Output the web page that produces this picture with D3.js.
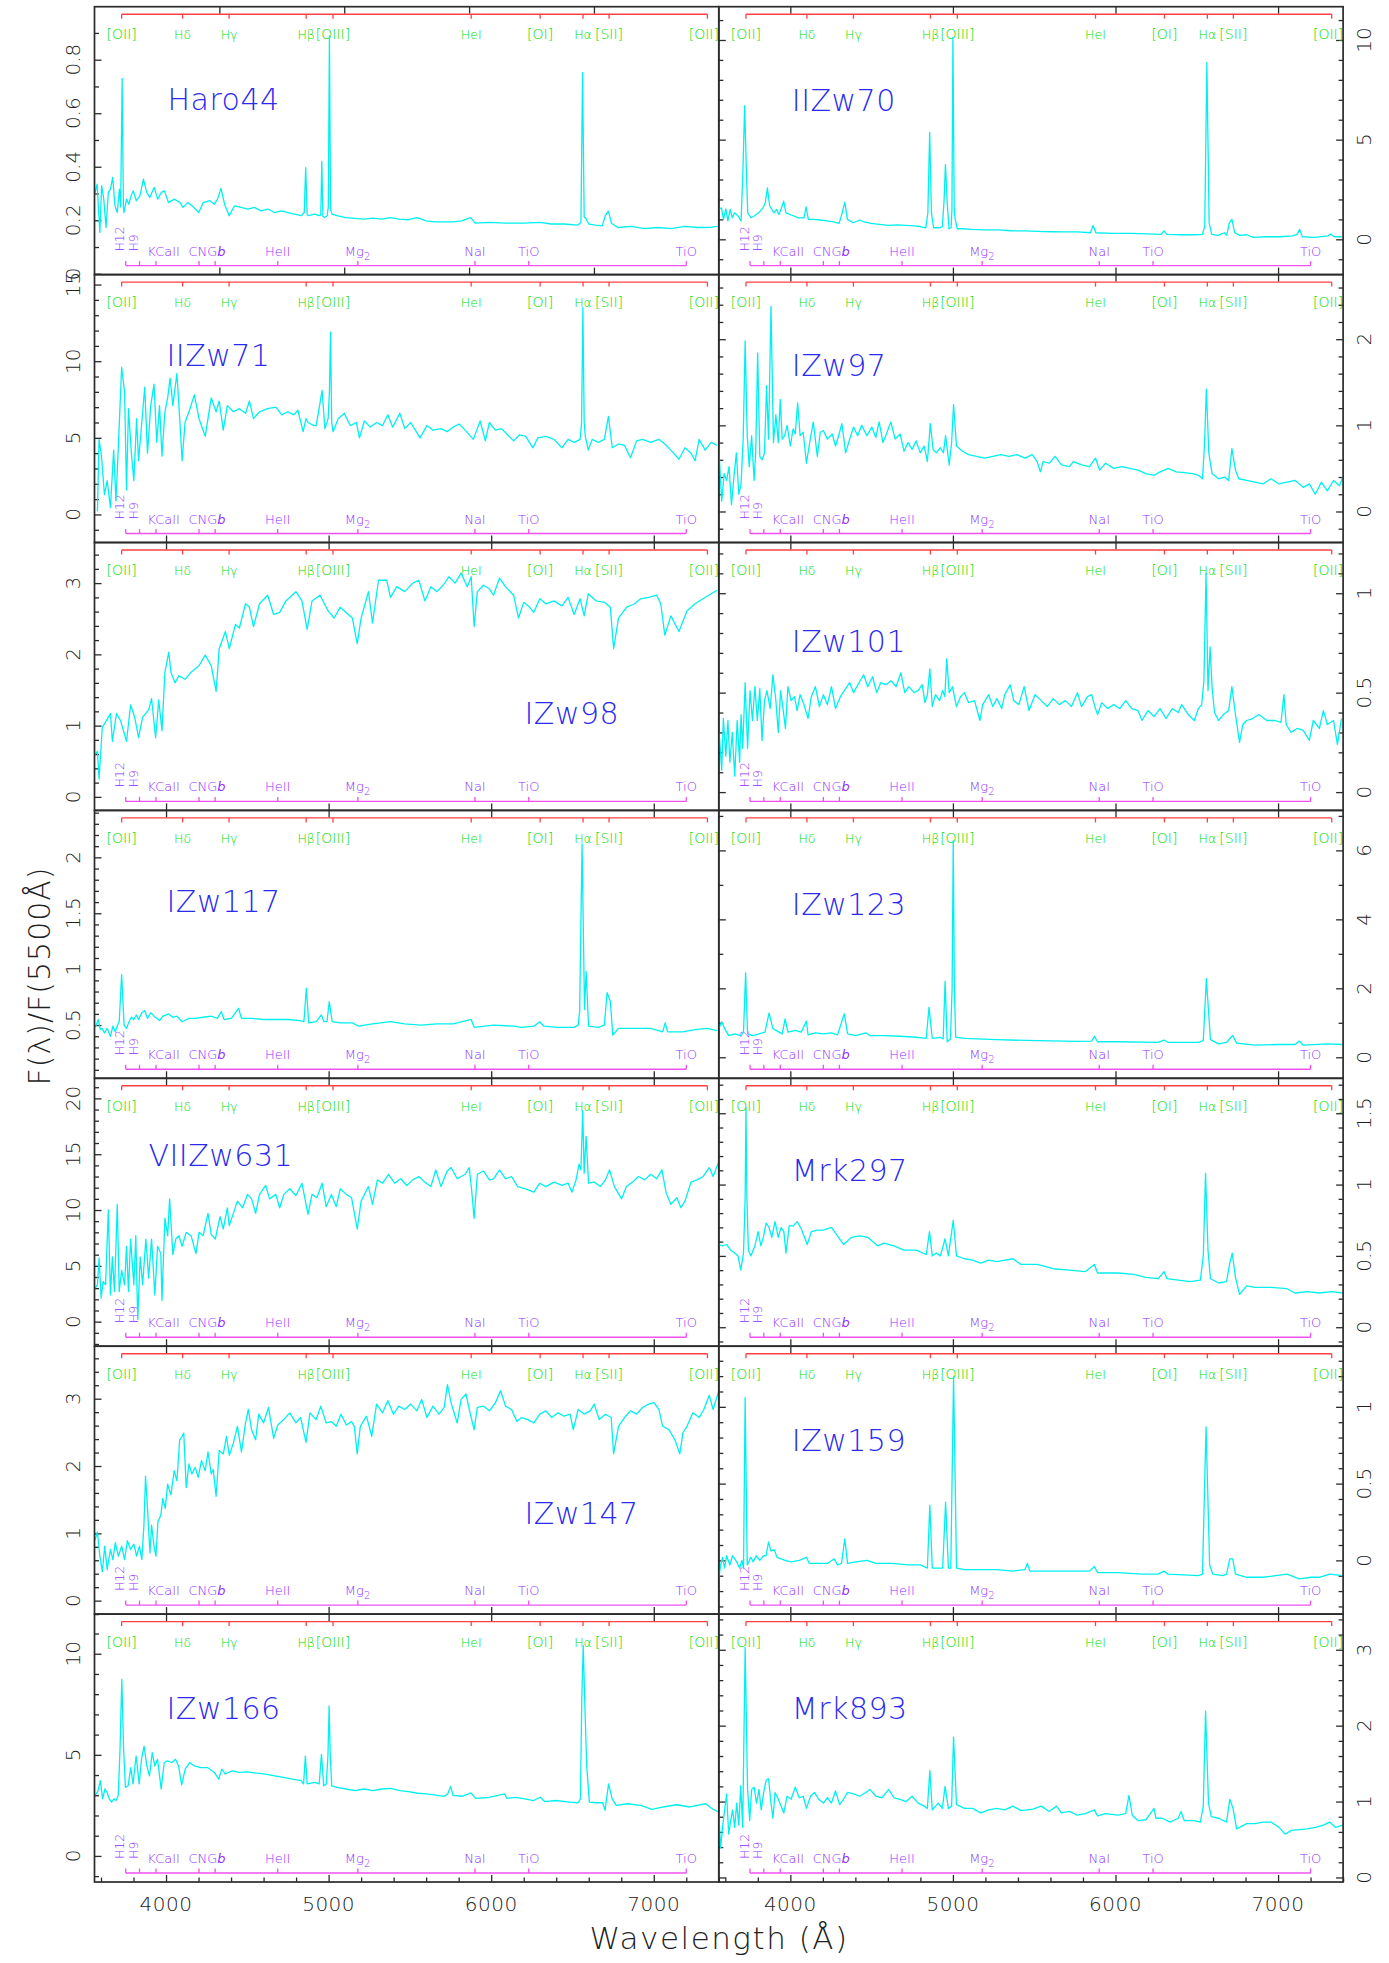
<!DOCTYPE html>
<html><head><meta charset="utf-8">
<script src="https://cdn.jsdelivr.net/npm/d3@7/dist/d3.min.js"></script>
<style>body{margin:0;background:#fff}text{font-family:"DejaVu Sans","Liberation Sans",sans-serif;font-weight:200}</style>
</head><body>
<svg id="c" width="1389" height="1963"></svg>
<script>
// ---------------- DATA ----------------
const haro44=[[3562,.30],[3576,.335],[3593,.154],[3604,.329],[3617,.279],[3631,.173],[3645,.304],[3658,.316],[3672,.36],[3686,.254],[3700,.229],[3713,.316],[3721,.25],[3730,.73],[3738,.25],[3741,.229],[3757,.279],[3771,.26],[3785,.291],[3798,.31],[3817,.273],[3839,.291],[3861,.354],[3881,.304],[3900,.285],[3927,.323],[3949,.279],[3971,.304],[3990,.31],[4015,.266],[4051,.279],[4086,.266],[4105,.248],[4133,.266],[4160,.254],[4201,.229],[4229,.266],[4270,.273],[4297,.26],[4317,.279],[4338,.319],[4360,.26],[4388,.217],[4421,.254],[4462,.248],[4503,.242],[4544,.248],[4585,.235],[4626,.242],[4668,.229],[4709,.235],[4750,.229],[4791,.223],[4832,.217],[4850,.229],[4859,.397],[4868,.222],[4876,.217],[4914,.223],[4942,.217],[4952,.22],[4958,.42],[4965,.215],[4975,.21],[4991,.217],[4998,.25],[5005,.889],[5012,.24],[5021,.223],[5051,.217],[5106,.21],[5161,.207],[5216,.204],[5271,.208],[5326,.204],[5380,.21],[5435,.204],[5490,.202],[5545,.21],[5600,.198],[5655,.194],[5709,.194],[5764,.194],[5819,.198],[5874,.21],[5901,.189],[5984,.192],[6093,.189],[6203,.189],[6299,.192],[6368,.186],[6450,.186],[6532,.182],[6552,.192],[6562,.752],[6572,.21],[6579,.21],[6601,.186],[6642,.182],[6683,.179],[6702,.217],[6721,.234],[6740,.189],[6779,.173],[6861,.177],[6943,.169],[7026,.173],[7108,.169],[7190,.177],[7272,.173],[7355,.174],[7393,.177]];
const iizw70=[[3562,1.5],[3576,1.58],[3589,1.0],[3603,1.53],[3616,.92],[3630,1.5],[3643,1.08],[3657,1.33],[3678,1.17],[3697,.92],[3708,3.33],[3719,6.7],[3730,3.33],[3738,1.33],[3759,1.08],[3778,1.17],[3805,1.33],[3832,1.58],[3846,1.83],[3859,2.58],[3873,1.67],[3886,1.5],[3900,1.33],[3916,1.5],[3930,1.25],[3946,1.58],[3959,1.92],[3973,1.33],[3995,1.25],[4022,1.17],[4049,1.08],[4084,1.08],[4097,1.63],[4111,1.0],[4143,1.0],[4184,.97],[4224,.92],[4265,.87],[4300,.8],[4319,1.33],[4335,1.87],[4351,1.0],[4387,.83],[4427,.97],[4454,.87],[4495,.8],[4549,.75],[4603,.7],[4657,.72],[4711,.7],[4765,.67],[4805,.63],[4833,.58],[4846,1.33],[4857,5.37],[4868,1.33],[4881,.58],[4914,.58],[4935,.63],[4946,2.0],[4954,3.75],[4965,1.83],[4976,.53],[4989,.58],[4994,1.5],[5000,10.13],[5008,1.5],[5014,1.0],[5027,.53],[5062,.53],[5116,.5],[5197,.47],[5279,.47],[5360,.43],[5441,.42],[5522,.4],[5603,.38],[5684,.37],[5765,.37],[5846,.33],[5862,.7],[5879,.33],[5981,.3],[6089,.3],[6198,.27],[6279,.25],[6298,.42],[6316,.25],[6414,.23],[6495,.23],[6535,.25],[6549,.67],[6562,8.87],[6576,.83],[6592,.25],[6630,.2],[6670,.33],[6684,.2],[6700,.83],[6716,1.0],[6733,.33],[6765,.2],[6806,.23],[6846,.1],[6927,.13],[7008,.13],[7090,.17],[7117,.25],[7133,.5],[7149,.13],[7225,.1],[7306,.17],[7322,.27],[7346,.13],[7392,.13]];
const iizw71=[[3578,.2],[3588,4.9],[3603,3.8],[3621,1.3],[3638,2.2],[3658,.45],[3678,4.2],[3692,.9],[3707,4.5],[3727,9.6],[3745,8.0],[3757,1.6],[3769,6.9],[3787,4.0],[3802,2.2],[3819,6.25],[3831,3.5],[3851,6.0],[3869,8.3],[3886,4.0],[3906,7.1],[3926,8.5],[3943,4.7],[3960,7.1],[3975,3.8],[3993,6.7],[4010,7.6],[4025,8.9],[4042,7.1],[4067,9.2],[4084,6.25],[4099,3.5],[4117,6.0],[4141,6.7],[4174,7.8],[4203,6.25],[4241,5.1],[4278,7.6],[4308,6.7],[4327,7.4],[4352,5.5],[4377,7.1],[4414,6.7],[4451,6.9],[4489,6.6],[4513,7.4],[4538,6.25],[4575,6.7],[4625,6.9],[4675,7.0],[4712,6.5],[4749,6.7],[4786,6.5],[4811,6.8],[4843,5.4],[4861,6.25],[4873,6.0],[4910,5.8],[4923,5.8],[4935,6.5],[4960,8.1],[4977,5.6],[4997,6.25],[5005,8.0],[5012,11.9],[5019,6.0],[5027,5.4],[5059,6.25],[5096,6.6],[5133,5.8],[5171,6.0],[5190,5.0],[5220,6.1],[5257,5.7],[5295,6.0],[5332,5.8],[5364,6.5],[5394,5.7],[5438,6.6],[5468,5.6],[5505,6.0],[5562,5.0],[5605,5.8],[5642,5.5],[5691,5.6],[5729,5.4],[5766,5.7],[5803,5.9],[5840,5.5],[5890,4.9],[5932,6.1],[5964,4.8],[5989,6.0],[6026,5.5],[6063,5.6],[6101,5.2],[6138,4.8],[6175,5.2],[6212,5.1],[6257,4.35],[6287,5.0],[6336,5.1],[6386,4.9],[6435,4.35],[6473,4.9],[6510,4.7],[6547,4.9],[6556,6.0],[6564,13.5],[6572,6.0],[6579,5.1],[6597,4.2],[6621,4.9],[6659,4.7],[6696,4.9],[6721,6.4],[6745,4.35],[6783,4.6],[6820,4.5],[6857,3.7],[6894,4.8],[6931,4.9],[6981,4.7],[7031,4.9],[7068,4.6],[7105,4.2],[7155,3.6],[7192,4.35],[7229,4.0],[7254,3.5],[7279,4.9],[7316,4.2],[7353,4.7],[7390,4.5]];
const izw97=[[3560,.8],[3564,.6],[3578,.12],[3593,.44],[3608,.36],[3623,.52],[3638,.08],[3653,.4],[3668,.68],[3683,.2],[3697,.32],[3710,.84],[3722,1.98],[3735,.88],[3747,.52],[3762,.88],[3777,.36],[3787,.68],[3799,1.84],[3812,.64],[3826,.6],[3841,.68],[3854,1.46],[3866,.84],[3881,2.38],[3896,.8],[3911,1.12],[3926,.8],[3938,1.3],[3950,.84],[3965,.88],[3980,1.0],[4000,.76],[4017,.96],[4030,.9],[4045,1.26],[4060,.88],[4079,.92],[4099,.56],[4119,.8],[4141,1.04],[4166,.64],[4184,.92],[4203,.94],[4228,.84],[4258,.9],[4278,.76],[4303,.92],[4317,1.02],[4340,.68],[4365,.84],[4389,.98],[4414,.88],[4439,1.0],[4471,.88],[4501,.98],[4526,.86],[4546,1.04],[4570,.8],[4595,.92],[4618,1.04],[4645,.84],[4675,.9],[4699,.7],[4724,.8],[4749,.72],[4774,.82],[4799,.68],[4823,.76],[4843,.58],[4861,1.02],[4878,.72],[4898,.68],[4923,.74],[4942,.68],[4955,.88],[4977,.54],[4992,.8],[5004,1.24],[5022,.76],[5059,.7],[5096,.66],[5146,.64],[5195,.62],[5245,.64],[5295,.66],[5344,.64],[5394,.66],[5443,.62],[5488,.66],[5518,.58],[5538,.46],[5555,.58],[5592,.56],[5629,.64],[5667,.54],[5716,.52],[5741,.58],[5791,.54],[5840,.52],[5877,.62],[5902,.48],[5939,.56],[5989,.5],[6039,.52],[6088,.5],[6138,.48],[6187,.44],[6237,.42],[6274,.46],[6324,.5],[6373,.46],[6423,.45],[6473,.44],[6510,.42],[6535,.38],[6547,.76],[6559,1.42],[6574,.68],[6594,.44],[6634,.38],[6671,.4],[6696,.36],[6716,.73],[6738,.48],[6758,.38],[6807,.36],[6857,.34],[6907,.32],[6956,.38],[7006,.32],[7055,.34],[7105,.36],[7155,.28],[7192,.32],[7229,.2],[7266,.34],[7303,.24],[7341,.36],[7378,.3],[7398,.4]];
const izw98=[[3562,.59],[3578,.64],[3588,.25],[3608,.98],[3633,1.07],[3658,1.17],[3670,.78],[3695,1.17],[3720,1.07],[3757,.78],[3782,1.29],[3807,1.12],[3831,.83],[3856,1.12],[3893,1.22],[3911,1.38],[3936,.83],[3955,1.36],[3975,.93],[3993,1.75],[4017,2.03],[4030,1.75],[4055,1.6],[4079,1.7],[4117,1.65],[4154,1.75],[4203,1.84],[4241,1.99],[4278,1.84],[4308,1.48],[4327,2.08],[4365,2.32],[4389,2.08],[4427,2.42],[4451,2.37],[4489,2.71],[4513,2.66],[4538,2.39],[4575,2.71],[4625,2.83],[4662,2.56],[4699,2.59],[4737,2.75],[4799,2.88],[4836,2.75],[4868,2.35],[4898,2.75],[4947,2.83],[4997,2.61],[5034,2.51],[5071,2.66],[5121,2.56],[5146,2.51],[5176,2.15],[5200,2.51],[5245,2.88],[5270,2.44],[5307,3.04],[5357,3.04],[5381,2.8],[5419,2.95],[5468,2.88],[5518,3.0],[5555,3.04],[5592,2.75],[5629,2.95],[5667,2.88],[5704,2.97],[5741,3.09],[5778,3.0],[5815,3.14],[5853,2.95],[5877,3.09],[5895,2.39],[5915,2.88],[5952,2.97],[5989,2.92],[6014,2.83],[6051,3.07],[6088,2.95],[6138,2.83],[6168,2.51],[6200,2.73],[6237,2.66],[6262,2.59],[6299,2.78],[6336,2.71],[6386,2.75],[6435,2.68],[6473,2.8],[6510,2.56],[6547,2.78],[6572,2.54],[6597,2.85],[6646,2.75],[6696,2.73],[6733,2.66],[6753,2.08],[6783,2.51],[6832,2.66],[6882,2.71],[6919,2.78],[6969,2.8],[7018,2.83],[7043,2.71],[7068,2.27],[7105,2.54],[7155,2.32],[7204,2.61],[7254,2.71],[7303,2.78],[7353,2.85],[7390,2.9]];
const izw101=[[3562,.3],[3578,.11],[3588,.37],[3603,.18],[3616,.36],[3628,.15],[3643,.3],[3658,.08],[3673,.36],[3688,.15],[3697,.39],[3707,.22],[3722,.55],[3737,.22],[3752,.51],[3767,.36],[3782,.53],[3797,.36],[3812,.52],[3826,.26],[3841,.46],[3856,.51],[3876,.42],[3893,.59],[3911,.46],[3926,.3],[3940,.51],[3955,.42],[3970,.32],[3985,.53],[4005,.46],[4025,.48],[4042,.41],[4060,.49],[4084,.44],[4109,.37],[4129,.48],[4154,.53],[4179,.43],[4203,.49],[4228,.44],[4253,.53],[4278,.42],[4308,.48],[4332,.51],[4365,.55],[4389,.5],[4422,.55],[4451,.59],[4476,.53],[4506,.58],[4531,.5],[4556,.55],[4588,.54],[4620,.56],[4650,.53],[4680,.6],[4704,.5],[4729,.53],[4761,.5],[4786,.51],[4811,.54],[4828,.45],[4843,.49],[4858,.62],[4873,.43],[4893,.49],[4918,.46],[4937,.51],[4950,.48],[4962,.67],[4977,.5],[4997,.53],[5022,.43],[5047,.48],[5071,.5],[5096,.45],[5133,.46],[5166,.36],[5183,.44],[5220,.49],[5245,.43],[5270,.47],[5300,.42],[5319,.49],[5352,.54],[5374,.46],[5406,.44],[5438,.53],[5468,.41],[5505,.49],[5543,.46],[5580,.43],[5617,.47],[5654,.44],[5691,.46],[5729,.43],[5766,.5],[5791,.43],[5828,.48],[5853,.49],[5877,.42],[5890,.39],[5915,.45],[5952,.42],[5989,.44],[6026,.42],[6063,.46],[6101,.42],[6138,.41],[6163,.36],[6200,.41],[6237,.38],[6274,.42],[6311,.37],[6349,.42],[6386,.4],[6407,.44],[6448,.39],[6485,.36],[6510,.42],[6530,.44],[6544,.56],[6557,1.1],[6569,.51],[6582,.73],[6594,.53],[6609,.4],[6634,.36],[6664,.39],[6696,.41],[6716,.53],[6738,.39],[6763,.25],[6783,.34],[6807,.36],[6844,.37],[6882,.39],[6931,.36],[6981,.36],[7018,.35],[7036,.49],[7050,.34],[7080,.3],[7117,.32],[7155,.31],[7192,.26],[7217,.36],[7254,.32],[7279,.41],[7303,.34],[7341,.36],[7365,.24],[7390,.37]];
const izw117=[[3562,.48],[3571,.5],[3583,.55],[3596,.46],[3608,.47],[3621,.43],[3638,.47],[3658,.4],[3673,.49],[3688,.44],[3702,.5],[3712,.53],[3727,.95],[3742,.5],[3757,.47],[3772,.53],[3787,.57],[3802,.55],[3817,.59],[3831,.55],[3851,.61],[3869,.63],[3886,.56],[3906,.61],[3926,.58],[3943,.56],[3960,.54],[3980,.58],[4017,.6],[4042,.57],[4067,.58],[4099,.53],[4141,.56],[4179,.56],[4228,.57],[4278,.58],[4315,.56],[4340,.62],[4357,.55],[4402,.56],[4446,.65],[4464,.56],[4526,.56],[4600,.55],[4675,.55],[4749,.55],[4823,.54],[4848,.53],[4863,.83],[4878,.52],[4923,.53],[4955,.59],[4972,.53],[4990,.53],[5004,.71],[5022,.53],[5071,.52],[5146,.52],[5183,.49],[5270,.51],[5381,.53],[5468,.51],[5567,.5],[5667,.51],[5766,.51],[5877,.55],[5895,.48],[6014,.5],[6138,.49],[6187,.48],[6262,.49],[6299,.53],[6324,.49],[6407,.48],[6510,.48],[6535,.5],[6544,.62],[6559,2.12],[6574,.64],[6584,.98],[6599,.49],[6659,.48],[6696,.5],[6713,.79],[6733,.71],[6748,.41],[6783,.47],[6882,.47],[6981,.47],[7055,.44],[7070,.52],[7085,.44],[7179,.44],[7254,.46],[7328,.47],[7390,.45]];
const izw123=[[3560,.83],[3578,1.03],[3596,.83],[3621,.63],[3658,.68],[3695,.63],[3712,.73],[3725,2.45],[3737,.68],[3769,.63],[3807,.68],[3844,.73],[3869,1.28],[3893,.83],[3931,.73],[3950,.68],[3968,1.11],[3985,.73],[4030,.78],[4067,.73],[4099,1.05],[4109,.65],[4154,.71],[4203,.68],[4253,.71],[4290,.65],[4332,1.26],[4352,.68],[4402,.63],[4464,.71],[4489,.63],[4575,.63],[4675,.61],[4774,.58],[4836,.55],[4853,1.45],[4873,.55],[4923,.58],[4940,.53],[4952,2.21],[4965,.45],[4985,.53],[4995,2.0],[5002,6.28],[5009,2.0],[5017,.58],[5071,.55],[5270,.51],[5518,.48],[5766,.46],[5853,.47],[5870,.61],[5890,.45],[6014,.45],[6262,.43],[6299,.5],[6324,.43],[6510,.43],[6540,.48],[6559,2.28],[6584,.51],[6634,.39],[6683,.43],[6721,.63],[6745,.41],[6857,.35],[7006,.37],[7105,.37],[7130,.47],[7155,.35],[7303,.39],[7398,.37]];
const viizw631=[[3564,3.0],[3578,3.3],[3588,5.7],[3601,2.1],[3613,3.6],[3628,3.3],[3645,10.0],[3658,2.4],[3670,5.8],[3683,2.7],[3700,10.5],[3712,2.7],[3727,4.6],[3745,3.3],[3757,6.75],[3769,2.7],[3782,7.4],[3802,3.3],[3814,7.7],[3826,.2],[3841,5.8],[3856,3.3],[3876,7.4],[3893,3.9],[3911,7.4],[3931,2.4],[3948,6.75],[3968,6.1],[3975,1.9],[3993,9.25],[4010,7.7],[4022,11.0],[4042,6.0],[4060,7.4],[4079,7.7],[4099,6.75],[4124,8.0],[4154,7.7],[4184,6.1],[4203,8.0],[4228,7.7],[4258,9.7],[4278,7.8],[4303,7.4],[4332,9.4],[4352,8.3],[4377,10.2],[4389,8.6],[4414,9.7],[4439,10.8],[4471,10.2],[4501,11.4],[4526,11.0],[4551,9.7],[4575,11.4],[4613,12.2],[4637,11.0],[4675,11.4],[4699,10.2],[4724,11.4],[4761,11.9],[4799,11.3],[4836,12.4],[4873,9.6],[4898,11.4],[4928,11.1],[4960,12.4],[4985,10.3],[5017,11.4],[5047,10.3],[5071,11.9],[5109,11.4],[5141,11.1],[5176,8.3],[5200,10.8],[5245,12.1],[5270,10.5],[5300,12.7],[5332,12.4],[5369,13.2],[5406,12.4],[5443,12.8],[5481,12.2],[5518,12.7],[5555,13.0],[5592,12.5],[5629,12.1],[5659,13.6],[5691,12.1],[5729,13.5],[5753,13.8],[5791,12.8],[5840,13.2],[5865,13.8],[5880,11.75],[5895,9.25],[5915,13.2],[5952,13.5],[5989,12.7],[6014,12.8],[6051,13.6],[6088,12.8],[6125,13.0],[6163,12.1],[6212,11.9],[6262,11.6],[6299,12.4],[6336,12.1],[6386,12.5],[6435,12.2],[6473,12.4],[6497,11.6],[6522,12.7],[6540,14.1],[6552,13.6],[6563,18.9],[6572,13.3],[6584,16.6],[6599,12.4],[6634,12.5],[6671,12.1],[6703,12.7],[6728,13.6],[6758,12.1],[6802,11.0],[6832,12.1],[6869,12.5],[6907,13.0],[6944,12.7],[6981,13.2],[7018,12.8],[7050,13.6],[7075,11.6],[7105,10.5],[7142,11.1],[7167,10.2],[7192,10.8],[7229,12.5],[7266,12.7],[7303,13.0],[7341,13.8],[7365,13.0],[7398,14.25]];
const mrk297=[[3560,.58],[3583,.57],[3608,.58],[3633,.54],[3658,.52],[3678,.5],[3695,.4],[3712,.52],[3722,.9],[3727,1.54],[3733,.9],[3742,.54],[3757,.5],[3782,.57],[3802,.67],[3819,.57],[3836,.64],[3851,.73],[3869,.7],[3886,.63],[3906,.74],[3926,.63],[3943,.7],[3960,.67],[3973,.52],[3993,.71],[4017,.71],[4042,.74],[4067,.69],[4104,.58],[4129,.67],[4166,.68],[4203,.68],[4253,.7],[4290,.64],[4327,.58],[4377,.63],[4427,.64],[4476,.63],[4538,.57],[4575,.59],[4637,.57],[4699,.54],[4774,.54],[4836,.51],[4856,.67],[4873,.5],[4898,.52],[4923,.5],[4952,.62],[4972,.5],[5002,.75],[5022,.5],[5071,.48],[5121,.47],[5171,.45],[5220,.47],[5270,.46],[5369,.48],[5419,.44],[5518,.44],[5617,.41],[5716,.4],[5815,.39],[5870,.44],[5890,.38],[6014,.38],[6113,.37],[6187,.35],[6262,.34],[6299,.39],[6316,.34],[6386,.33],[6460,.32],[6522,.33],[6540,.5],[6554,1.08],[6569,.54],[6584,.34],[6634,.31],[6683,.32],[6703,.45],[6718,.52],[6738,.35],[6763,.23],[6807,.29],[6857,.28],[6956,.28],[7055,.27],[7105,.24],[7179,.25],[7254,.24],[7328,.25],[7398,.24]];
const izw147=[[3563,.9],[3578,1.02],[3593,.66],[3608,.43],[3623,.81],[3638,.46],[3658,.76],[3673,.61],[3688,.86],[3707,.66],[3727,.81],[3745,.61],[3762,.89],[3782,.76],[3802,.84],[3819,.66],[3836,.81],[3851,.61],[3864,1.12],[3874,1.85],[3886,1.37],[3901,.71],[3911,1.12],[3926,.81],[3938,.66],[3950,1.17],[3968,1.27],[3980,1.52],[3995,1.37],[4010,1.73],[4030,1.57],[4050,1.93],[4067,1.78],[4084,2.39],[4099,2.44],[4109,2.49],[4124,1.68],[4141,2.03],[4159,1.88],[4179,1.98],[4198,1.83],[4218,2.08],[4241,1.93],[4258,2.21],[4278,1.88],[4290,1.95],[4308,1.55],[4327,2.23],[4352,2.18],[4372,2.44],[4389,2.16],[4414,2.34],[4439,2.59],[4464,2.21],[4489,2.64],[4506,2.84],[4526,2.54],[4551,2.39],[4570,2.77],[4600,2.64],[4630,2.87],[4662,2.41],[4687,2.61],[4724,2.69],[4761,2.79],[4799,2.64],[4828,2.72],[4861,2.35],[4885,2.79],[4923,2.69],[4952,2.89],[4985,2.64],[5017,2.66],[5047,2.59],[5076,2.77],[5109,2.61],[5141,2.66],[5158,2.59],[5176,2.18],[5195,2.59],[5233,2.74],[5265,2.44],[5295,2.92],[5332,2.79],[5364,2.97],[5399,2.77],[5431,2.89],[5468,2.84],[5505,2.92],[5543,2.82],[5572,2.99],[5605,2.72],[5642,2.89],[5679,2.77],[5711,2.87],[5731,3.21],[5753,2.94],[5791,2.64],[5815,2.99],[5845,3.07],[5865,2.84],[5895,2.54],[5915,2.87],[5952,2.89],[5989,2.82],[6026,2.94],[6058,3.12],[6088,2.89],[6125,2.84],[6158,2.66],[6187,2.72],[6225,2.69],[6262,2.64],[6299,2.77],[6336,2.82],[6373,2.72],[6411,2.79],[6448,2.74],[6485,2.77],[6505,2.54],[6535,2.84],[6572,2.77],[6609,2.82],[6634,2.92],[6664,2.69],[6703,2.77],[6738,2.72],[6753,2.18],[6783,2.59],[6820,2.72],[6857,2.82],[6894,2.77],[6931,2.87],[6969,2.92],[7001,2.94],[7031,2.84],[7055,2.59],[7093,2.54],[7130,2.39],[7160,2.18],[7179,2.49],[7204,2.59],[7241,2.79],[7279,2.72],[7308,2.84],[7341,3.05],[7365,2.84],[7398,3.1]];
const izw159=[[3560,-.12],[3571,-.03],[3583,.02],[3596,-.05],[3608,.03],[3628,-.03],[3645,.03],[3670,-.01],[3688,-.05],[3702,0],[3712,-.05],[3722,1.06],[3735,-.03],[3757,.02],[3772,-.01],[3789,.03],[3812,0],[3836,.03],[3851,.03],[3866,.12],[3881,.06],[3901,.07],[3918,.02],[3943,.01],[3968,0],[4005,-.01],[4055,0],[4099,.02],[4117,-.02],[4179,-.02],[4228,-.02],[4270,.01],[4290,-.03],[4315,-.02],[4335,.14],[4352,-.02],[4402,-.01],[4471,0],[4526,-.02],[4625,-.02],[4724,-.03],[4799,-.03],[4843,-.05],[4858,.36],[4873,-.05],[4937,-.05],[4955,.38],[4972,-.05],[4987,-.05],[5004,1.2],[5022,-.05],[5071,-.06],[5171,-.06],[5270,-.06],[5369,-.07],[5443,-.06],[5458,-.02],[5473,-.07],[5567,-.07],[5716,-.07],[5840,-.07],[5870,-.04],[5890,-.08],[6014,-.08],[6163,-.09],[6262,-.09],[6299,-.07],[6324,-.09],[6510,-.1],[6535,-.09],[6557,.87],[6579,-.03],[6599,-.09],[6659,-.1],[6683,-.09],[6703,.01],[6721,.01],[6738,-.09],[6807,-.11],[6907,-.11],[7055,-.09],[7130,-.12],[7204,-.11],[7254,-.11],[7316,-.09],[7398,-.1]];
const izw166=[[3565,3.0],[3582,3.23],[3596,3.72],[3610,2.82],[3624,3.31],[3637,3.15],[3651,2.82],[3665,2.66],[3679,2.82],[3692,2.74],[3706,2.99],[3717,5.27],[3728,8.73],[3739,5.27],[3750,3.39],[3767,3.47],[3783,4.37],[3797,3.56],[3816,4.94],[3835,3.56],[3849,4.78],[3865,5.43],[3882,4.45],[3898,3.96],[3915,5.11],[3931,4.45],[3948,4.78],[3970,3.31],[3989,4.62],[4008,4.7],[4036,4.62],[4058,4.78],[4077,4.45],[4096,3.51],[4118,4.29],[4146,4.62],[4173,4.45],[4214,4.37],[4255,4.37],[4297,4.13],[4324,3.8],[4343,4.29],[4365,4.05],[4407,4.21],[4448,4.13],[4503,4.16],[4558,4.09],[4613,4.05],[4668,3.96],[4722,3.88],[4777,3.8],[4832,3.72],[4846,3.56],[4857,4.94],[4868,3.56],[4915,3.64],[4942,3.56],[4956,5.02],[4970,3.47],[4986,3.56],[4996,5.0],[5003,7.42],[5010,5.0],[5019,3.47],[5052,3.39],[5107,3.31],[5162,3.23],[5217,3.31],[5272,3.23],[5327,3.31],[5382,3.34],[5437,3.23],[5492,3.18],[5547,3.1],[5601,3.07],[5670,2.99],[5711,2.95],[5733,3.07],[5750,3.44],[5766,2.99],[5821,2.95],[5876,3.12],[5904,2.85],[5986,2.89],[6082,3.07],[6096,2.85],[6151,2.9],[6206,2.82],[6261,2.74],[6302,2.9],[6329,2.69],[6398,2.74],[6481,2.66],[6535,2.63],[6549,2.82],[6557,7.72],[6566,10.4],[6577,7.23],[6588,4.37],[6604,2.66],[6645,2.63],[6686,2.63],[6700,2.25],[6722,3.56],[6744,2.82],[6769,2.5],[6837,2.58],[6920,2.5],[6989,2.3],[7058,2.42],[7140,2.53],[7223,2.42],[7319,2.58],[7360,2.33],[7399,2.17]];
const mrk893=[[3560,.85],[3571,.39],[3583,.66],[3596,.89],[3608,1.1],[3621,.57],[3633,.75],[3645,.89],[3658,.66],[3670,.98],[3683,.69],[3695,1.21],[3707,.66],[3722,3.03],[3737,1.16],[3750,.75],[3762,1.16],[3777,1.19],[3792,.98],[3807,1.16],[3821,.89],[3836,1.12],[3851,1.28],[3866,1.3],[3881,.98],[3893,.78],[3906,1.12],[3926,1.03],[3943,.94],[3960,.85],[3980,1.07],[4005,1.03],[4030,1.19],[4055,1.05],[4079,1.07],[4099,.91],[4124,1.07],[4149,1.12],[4174,1.03],[4203,.98],[4228,1.05],[4253,.98],[4278,1.14],[4303,.96],[4327,1.03],[4352,1.12],[4389,1.1],[4427,1.07],[4464,1.12],[4489,1.16],[4526,1.07],[4563,1.05],[4605,1.16],[4637,1.05],[4675,1.03],[4712,1.0],[4749,1.07],[4786,.98],[4823,.94],[4843,.91],[4858,1.41],[4873,.89],[4910,.98],[4935,.91],[4952,1.2],[4972,.91],[4992,.94],[5004,1.85],[5022,.96],[5071,.91],[5121,.91],[5171,.85],[5220,.89],[5270,.91],[5319,.89],[5369,.94],[5419,.88],[5493,.9],[5543,.94],[5592,.87],[5637,.94],[5667,.85],[5716,.87],[5766,.82],[5815,.84],[5870,.89],[5890,.81],[5939,.84],[6014,.82],[6063,.84],[6083,1.08],[6103,.82],[6138,.75],[6187,.76],[6237,.91],[6249,.78],[6287,.78],[6336,.73],[6386,.78],[6403,.87],[6423,.75],[6485,.75],[6522,.73],[6540,.94],[6554,2.19],[6572,.98],[6589,.8],[6634,.78],[6683,.73],[6703,1.03],[6723,.91],[6745,.64],[6807,.71],[6857,.71],[6907,.73],[6956,.73],[7006,.66],[7043,.57],[7080,.62],[7130,.63],[7179,.64],[7229,.66],[7279,.69],[7316,.73],[7353,.66],[7398,.69]];

// panel order: row by row, left then right
const panelNames=["Haro44","IIZw70","IIZw71","IZw97","IZw98","IZw101","IZw117","IZw123","VIIZw631","Mrk297","IZw147","IZw159","IZw166","Mrk893"];
const panelSeries=[haro44,iizw70,iizw71,izw97,izw98,izw101,izw117,izw123,viizw631,mrk297,izw147,izw159,izw166,mrk893];
const yLow =[-0.003,-1.77,-1.83,-0.36,-0.19,-0.092,0.024,-0.61,-2.2,-0.133,-0.2,-0.35,-1.29,-0.06];
const yHigh=[0.998,11.67,15.65,2.75,3.57,1.255,2.42,7.16,21.8,1.745,3.78,1.395,11.96,3.47];
const yMajor=[0.2,5,5,1,1,0.5,0.5,2,5,0.5,1,0.5,5,1];
const yMinor=[0.1,1,1,0.2,0.2,0.1,0.1,1,1,0.1,0.2,0.1,1,0.2];

const xDomain=[3560,7400];
const xMajorTicks=[4000,5000,6000,7000];
const xTickLabels=["4000","5000","6000","7000"];

const emText=["[OII]","Hδ","Hγ","Hβ","[OIII]","HeI","[OI]","Hα","[SII]","[OII]"];
const emWave=[3727,4102,4388,4862,5027,5877,6301,6565,6725,7330];
const absTickWave=[3752,3837,3938,4203,4302,4687,5180,5900,6231,7200];
const absLabelText=["H12","H9","KCaII","CNG","HeII","Mg","NaI","TiO","TiO"];
const absLabelWave=[3752,3837,3985,4252,4687,5178,5900,6231,7200];

// ---------------- LAYOUT ----------------
const L=94.5, PW=624.3, T=6.7, PH=267.9;
const nameOffsets=[[73,103.3],[73,104],[72,91],[73,101],[430,181.5],[73,109],[72,102],[73,105],[54,88],[73,103],[430,178],[73,105],[72,104.7],[73,104.8]];
const axisCol="#2b2b2b";

const svg=d3.select("#c");
svg.append("rect").attr("width",1389).attr("height",1963).attr("fill","#fff");
const defs=svg.append("defs");

function stepTicks(lo,hi,step){
  const k0=Math.ceil(lo/step-1e-6), k1=Math.floor(hi/step+1e-6);
  return d3.range(k0,k1+1).map(k=>+(k*step).toFixed(6));
}
function fmt(v){return String(+v.toFixed(4));}

panelNames.forEach((nm,i)=>{
  const col=i%2,row=Math.floor(i/2);
  const px=L+col*PW, py=T+row*PH;
  const x=d3.scaleLinear().domain(xDomain).range([px,px+PW]);
  const y=d3.scaleLinear().domain([yLow[i],yHigh[i]]).range([py+PH,py]);
  const g=svg.append("g");
  const cid="clip"+i;
  defs.append("clipPath").attr("id",cid).append("rect").attr("x",px).attr("y",py).attr("width",PW).attr("height",PH);

  const majors=stepTicks(yLow[i],yHigh[i],yMajor[i]);
  const minors=stepTicks(yLow[i],yHigh[i],yMinor[i]).filter(v=>!majors.some(m=>Math.abs(m-v)<1e-6));

  function styleAxis(sel){sel.select(".domain").remove();sel.selectAll("line").attr("stroke",axisCol).attr("stroke-width",1.3);}
  const leftMaj=g.append("g").attr("transform",`translate(${px},0)`).call(d3.axisRight(y).tickValues(majors).tickSize(7).tickFormat(""));
  const leftMin=g.append("g").attr("transform",`translate(${px},0)`).call(d3.axisRight(y).tickValues(minors).tickSize(4.5).tickFormat(""));
  styleAxis(leftMaj);styleAxis(leftMin);
  if(col===1){
    const rMaj=g.append("g").attr("transform",`translate(${px+PW},0)`).call(d3.axisLeft(y).tickValues(majors).tickSize(7).tickFormat(""));
    const rMin=g.append("g").attr("transform",`translate(${px+PW},0)`).call(d3.axisLeft(y).tickValues(minors).tickSize(4.5).tickFormat(""));
    styleAxis(rMaj);styleAxis(rMin);
  }
  const lx = col===0 ? 80 : 1371;
  majors.forEach(v=>{
    g.append("text").attr("x",lx).attr("y",y(v)).attr("transform",`rotate(-90,${lx},${y(v)})`)
      .attr("text-anchor","middle").attr("font-size",20).attr("fill","#222").text(fmt(v));
  });
  if(i===0){
    const fx=d3.scaleLinear().domain([0,1]).range([px,px+PW]);
    const a1=g.append("g").attr("transform",`translate(0,${py})`).call(d3.axisBottom(fx).tickValues([0.2,0.4,0.6,0.8]).tickSize(7).tickFormat(""));
    const a2=g.append("g").attr("transform",`translate(0,${py+PH})`).call(d3.axisTop(fx).tickValues([0.2,0.4,0.6,0.8]).tickSize(7).tickFormat(""));
    styleAxis(a1);styleAxis(a2);
  } else {
    if(i!==2){
      const at=g.append("g").attr("transform",`translate(0,${py})`).call(d3.axisBottom(x).tickValues(xMajorTicks).tickSize(7).tickFormat(""));
      styleAxis(at);
    }
    const ab=g.append("g").attr("transform",`translate(0,${py+PH})`).call(d3.axisTop(x).tickValues(xMajorTicks).tickSize(7).tickFormat(""));
    styleAxis(ab);
  }
  if(row===6){
    const mx=d3.range(3600,7401,200).filter(v=>v%1000!==0);
    const am=g.append("g").attr("transform",`translate(0,${py+PH})`).call(d3.axisTop(x).tickValues(mx).tickSize(4.5).tickFormat(""));
    styleAxis(am);
    xMajorTicks.forEach((v,k)=>{
      g.append("text").attr("x",x(v)).attr("y",1911).attr("text-anchor","middle").attr("font-size",20).attr("letter-spacing",0.5).attr("fill","#222").text(xTickLabels[k]);
    });
  }

  // emission-line marker (red) and labels (green)
  const ry=py+7.5;
  g.append("line").attr("x1",x(emWave[0])).attr("x2",x(emWave[emWave.length-1])).attr("y1",ry).attr("y2",ry).attr("stroke","#ff4040").attr("stroke-width",1.4);
  emWave.forEach((w,k)=>{
    g.append("line").attr("x1",x(w)).attr("x2",x(w)).attr("y1",ry).attr("y2",ry+4.5).attr("stroke","#ff4040").attr("stroke-width",1.3);
    const big=emText[k].startsWith("[");
    let tx=x(w);
    if(k===emWave.length-1) tx=Math.min(tx,px+PW-15);
    g.append("text").attr("x",tx).attr("y",py+32.5).attr("text-anchor","middle").attr("font-size",big?14:12.5).attr("font-weight",400).attr("fill","#00dc00").text(emText[k]);
  });
  // absorption marker (magenta) and labels (purple)
  const my=py+PH-9;
  g.append("line").attr("x1",x(absTickWave[0])).attr("x2",x(absTickWave[absTickWave.length-1])).attr("y1",my).attr("y2",my).attr("stroke","#f050f0").attr("stroke-width",1.4);
  absTickWave.forEach(w=>{
    g.append("line").attr("x1",x(w)).attr("x2",x(w)).attr("y1",my).attr("y2",my-4.5).attr("stroke","#f050f0").attr("stroke-width",1.3);
  });
  const pc="#9430ff";
  absLabelText.forEach((t,k)=>{
    const w=absLabelWave[k];
    if(k<2){
      const tx=x(w)-1.5, ty=py+PH-23;
      g.append("text").attr("x",tx).attr("y",ty).attr("transform",`rotate(-90,${tx},${ty})`).attr("font-size",12.5).attr("font-weight",400).attr("fill",pc).text(t);
    } else {
      const te=g.append("text").attr("x",x(w)).attr("y",py+PH-19).attr("text-anchor","middle").attr("font-size",13).attr("font-weight",400).attr("fill",pc);
      te.append("tspan").text(t);
      if(t==="CNG") te.append("tspan").attr("font-style","italic").text("b");
      if(t==="Mg") te.append("tspan").attr("dy",4).attr("font-size",10).text("2");
    }
  });

  // galaxy name
  g.append("text").attr("x",px+nameOffsets[i][0]).attr("y",py+nameOffsets[i][1]).attr("font-size",30).attr("letter-spacing",0.5).attr("fill","#2a2af0").text(nm);

  // spectrum
  g.append("path").datum(panelSeries[i]).attr("clip-path",`url(#${cid})`).attr("fill","none")
    .attr("stroke","#00f0f0").attr("stroke-width",1.3).attr("stroke-linejoin","round")
    .attr("d",d3.line().x(d=>x(d[0])).y(d=>y(d[1])));

  // frame
  g.append("rect").attr("x",px).attr("y",py).attr("width",PW).attr("height",PH).attr("fill","none").attr("stroke",axisCol).attr("stroke-width",1.7);
});

// axis titles
svg.append("text").attr("x",50).attr("y",976).attr("transform","rotate(-90,50,976)").attr("text-anchor","middle")
  .attr("font-size",30).attr("letter-spacing",1).attr("fill","#222").text("F(λ)/F(5500Å)");
svg.append("text").attr("x",719).attr("y",1949).attr("text-anchor","middle")
  .attr("font-size",31).attr("letter-spacing",1.5).attr("fill","#222").text("Wavelength (Å)");
</script>
</body></html>
